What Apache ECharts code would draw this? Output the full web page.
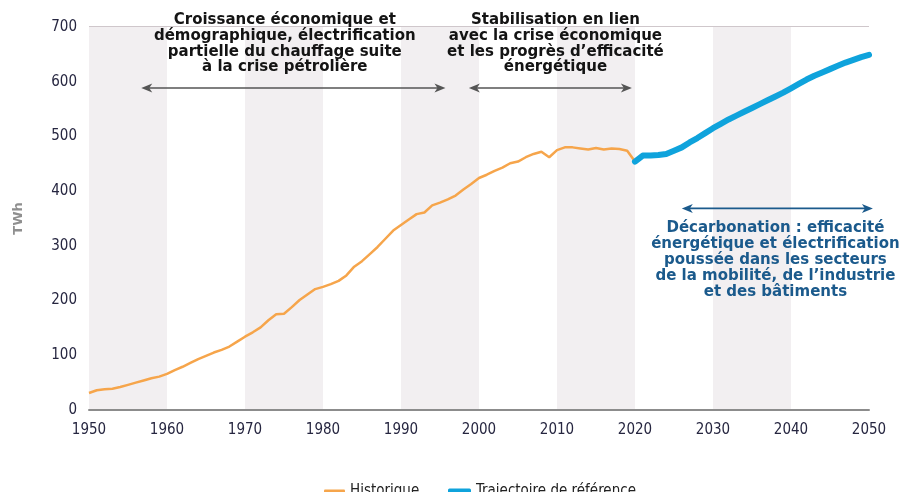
<!DOCTYPE html>
<html>
<head>
    <meta charset="utf-8"/>
    <title>Consommation d'électricité</title>
    <script src="https://cdn.jsdelivr.net/npm/echarts@6/dist/echarts.min.js"></script>
    <style>
        html, body { margin: 0; padding: 0; background: #fff; }
    </style>
</head>
<body>
<div id="main" style="width: 901px;height:492px;"></div>
<script type="text/javascript">
    // années et valeurs (TWh)
    var histYears = [];
    for (var y = 1950; y <= 2020; y++) histYears.push(y);
    var histValues = [31, 36, 38, 39, 42, 46, 50, 54, 58, 61,
        66, 73, 79, 86, 93, 99, 105, 110, 116, 125,
        134, 142, 151, 164, 175, 176, 188, 201, 211, 221,
        225, 230, 236, 246, 262, 272, 285, 298, 313, 328,
        338, 348, 358, 361, 374, 379, 385, 392, 403, 413,
        424, 430, 437, 443, 451, 454, 462, 468, 472, 462,
        475, 480, 480, 478, 476, 479, 476, 478, 477, 474,
        454];
    var refYears = [];
    for (var y2 = 2020; y2 <= 2050; y2++) refYears.push(y2);
    var refValues = [454, 465, 465, 466, 468, 474, 480, 489, 497, 506,
        515, 523, 531, 538, 545, 552, 559, 566, 573, 580,
        588, 596, 604, 611, 617, 623, 629, 635, 640, 645,
        649];
    var yTicks = [0, 100, 200, 300, 400, 500, 600, 700];

    function pairs(xs, vs) {
        var out = [];
        for (var i = 0; i < xs.length; i++) out.push([xs[i], vs[i]]);
        return out;
    }

    var tickFont = '"Liberation Sans Narrow", "DejaVu Sans Condensed", sans-serif';
    var boldFont = '"DejaVu Sans", Verdana, sans-serif';
    var legendText = {fontFamily: tickFont, fontSize: 15, color: '#222'};

    var myChart = echarts.init(document.getElementById('main'));
    var option = {
        animation: false,
        grid: {left: 89, right: 32, top: 27, bottom: 82},
        // deux légendes pour garder deux épaisseurs d'icône
        legend: [
            {
                left: 319, top: 479, icon: 'roundRect',
                itemWidth: 21, itemHeight: 4, itemGap: 30,
                textStyle: legendText,
                data: ['Historique']
            },
            {
                left: 443, top: 479, icon: 'roundRect',
                itemWidth: 23, itemHeight: 6,
                textStyle: legendText,
                data: ['Trajectoire de référence']
            }
        ],
        xAxis: {
            type: 'value',
            min: 1950,
            max: 2050,
            interval: 10,
            axisLine: {lineStyle: {color: '#8c8c8c', width: 2}},
            axisTick: {show: false},
            axisLabel: {
                margin: 13, fontFamily: tickFont, fontSize: 15, color: '#262640',
                formatter: function (v) { return String(v); }
            },
            splitLine: {show: false},
            splitArea: {show: true, areaStyle: {color: ['#f2eff1', '#ffffff']}}
        },
        yAxis: {
            type: 'value',
            min: yTicks[0],
            max: yTicks[yTicks.length - 1],
            interval: 100,
            name: 'TWh',
            nameLocation: 'middle',
            nameGap: 64,
            nameTextStyle: {fontFamily: boldFont, fontWeight: 'bold', fontSize: 13, color: '#8f8f8f'},
            axisLine: {show: false},
            axisTick: {show: false},
            axisLabel: {margin: 12, fontFamily: tickFont, fontSize: 15, color: '#262640'},
            splitLine: {lineStyle: {color: '#bfb5ba', width: 1.5}}
        },
        series: [
            {
                name: 'Historique',
                type: 'line',
                symbol: 'none',
                lineStyle: {color: '#f6a54b', width: 2.5},
                itemStyle: {color: '#f6a54b'},
                data: pairs(histYears, histValues),
                z: 3
            },
            {
                name: 'Trajectoire de référence',
                type: 'line',
                symbol: 'none',
                lineStyle: {color: '#0fa3dc', width: 6, cap: 'round', join: 'round'},
                itemStyle: {color: '#0fa3dc'},
                data: pairs(refYears, refValues),
                z: 4
            }
        ]
    };
    myChart.setOption(option);

    // annotations placées en coordonnées de données
    function px(x, v) {
        return myChart.convertToPixel({gridIndex: 0}, [x, v]);
    }

    function arrow(x1, x2, v, color) {
        var a = px(x1, v), b = px(x2, v);
        var y = a[1], h = 4.5, l = 11;
        return {
            type: 'group',
            children: [
                {type: 'line', shape: {x1: a[0] + 4, y1: y, x2: b[0] - 4, y2: y},
                    style: {stroke: color, lineWidth: 1.6}},
                {type: 'polygon', shape: {points: [[a[0], y], [a[0] + l, y - h], [a[0] + l - 3, y], [a[0] + l, y + h]]},
                    style: {fill: color}},
                {type: 'polygon', shape: {points: [[b[0], y], [b[0] - l, y - h], [b[0] - l + 3, y], [b[0] - l, y + h]]},
                    style: {fill: color}}
            ]
        };
    }

    function label(x, v, lines, color, lh) {
        var p = px(x, v);
        return {
            type: 'text',
            x: p[0],
            y: p[1],
            style: {
                text: lines.join('\n'),
                font: 'bold 15px ' + boldFont,
                fill: color,
                align: 'center',
                verticalAlign: 'top',
                lineHeight: lh
            },
            z: 10
        };
    }

    myChart.setOption({
        graphic: [
            label(1975.1, 727, ['Croissance économique et', 'démographique, électrification',
                'partielle du chauffage suite', 'à la crise pétrolière'], '#141414', 15.8),
            label(2009.8, 727, ['Stabilisation en lien', 'avec la crise économique',
                'et les progrès d’efficacité', 'énergétique'], '#141414', 15.8),
            label(2038.0, 347.5, ['Décarbonation : efficacité', 'énergétique et électrification',
                'poussée dans les secteurs', 'de la mobilité, de l’industrie', 'et des bâtiments'], '#1b5a8c', 16),
            arrow(1956.7, 1995.7, 588.6, '#555'),
            arrow(1998.7, 2019.6, 588.6, '#555'),
            arrow(2026.0, 2050.5, 368.5, '#1b5a8c')
        ]
    });
</script>
</body>
</html>
